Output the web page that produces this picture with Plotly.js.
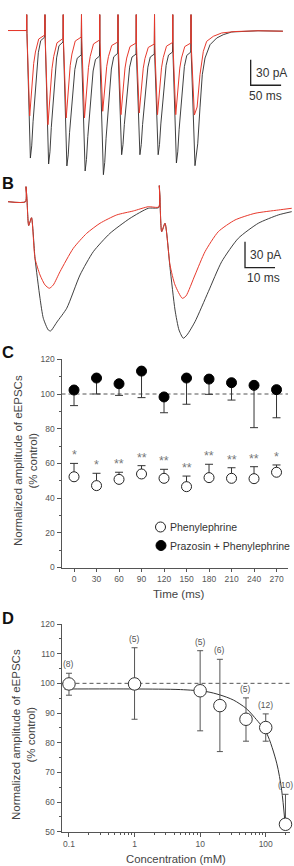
<!DOCTYPE html>
<html>
<head>
<meta charset="utf-8">
<script src="https://cdn.plot.ly/plotly-3.0.1.min.js"></script>
<style>html,body{margin:0;padding:0;background:#fff;}#chart{width:294px;height:866px;}</style>
</head>
<body>
<div id="chart"></div>
<script>
// ---------- Panel A: train of eEPSCs (time in ms, current in pA) ----------
const traceA_t_control = [-30.7,-0.4,0,0.4,6.0,8.2,10.4,14.8,19.1,23,29.6,
 30,30.4,36,38.2,40.4,44.8,49.1,53,59.6,
 60,60.4,66,68.2,70.4,74.8,79.1,83,89.6,
 90,90.4,96,98.2,100.4,104.8,109.1,113,119.6,
 120,120.4,126,128.2,130.4,134.8,139.1,143,149.6,
 150,150.4,156,158.2,160.4,164.8,169.1,173,179.6,
 180,180.4,186,188.2,190.4,194.8,199.1,203,209.6,
 210,210.4,216,218.2,220.4,224.8,229.1,233,239.6,
 240,240.4,246,248.2,250.4,254.8,259.1,263,269.6,
 270,270.4,276.5,281,284.7,288.5,293,301.2,312.2,323,336.8,380,421];
const traceA_I_control = [0,0,18.7,-3.3,-150,-135.7,-107.3,-60.3,-26.1,-11.9,-7.7,
 18.7,-11,-157,-142.7,-113.9,-66.6,-32.2,-17.9,-13.5,
 18.7,-16.8,-159.3,-146.3,-120.1,-77,-45.7,-32.6,-28.7,
 18.7,-32,-165.2,-151.7,-124.7,-80,-47.6,-34.1,-30,
 18.7,-33.3,-169.6,-155.3,-126.7,-79.5,-45.3,-30.9,-26.7,
 18.7,-30,-146.1,-134.2,-110.5,-71.5,-43.1,-31.2,-27.7,
 18.7,-31,-146.1,-134.2,-110.5,-71.5,-43.1,-31.2,-27.7,
 18.7,-31,-146.1,-134,-109.9,-70,-41,-28.9,-25.3,
 18.7,-28.6,-155.8,-142.7,-116.7,-73.6,-42.3,-29.3,-25.3,
 18.7,-28.6,-159,-133.3,-91,-52,-32.3,-16.7,-8.8,-4.9,-1.7,-0.3,-0.8];
const traceA_t_pe = [-30.7,-0.4,0,0.4,4.9,8.7,11.5,14.3,19.7,29.6,
 30,30.4,34.9,38.7,41.5,44.3,49.7,59.6,
 60,60.4,64.9,68.7,71.5,74.3,79.7,89.6,
 90,90.4,94.9,98.7,101.5,104.3,109.7,119.6,
 120,120.4,124.9,128.7,131.5,134.3,139.7,149.6,
 150,150.4,154.9,158.7,161.5,164.3,169.7,179.6,
 180,180.4,184.9,188.7,191.5,194.3,199.7,209.6,
 210,210.4,214.9,218.7,221.5,224.3,229.7,239.6,
 240,240.4,244.9,248.7,251.5,254.3,259.7,269.6,
 270,270.4,275.5,280,282.5,284.7,290.2,295.7,306.6,320.4,342,380,421];
const traceA_I_pe = [0,0,18.7,-3.3,-100.5,-60.5,-38.6,-25.3,-10,-5.3,
 18.7,-8.6,-110.8,-68.2,-44.9,-30.7,-14.5,-9.4,
 18.7,-12.7,-102.9,-62.9,-41,-27.7,-12.4,-7.7,
 18.7,-11,-102.9,-64.4,-43.3,-30.5,-15.8,-11.2,
 18.7,-14.5,-95,-60.8,-42.1,-30.7,-17.6,-13.5,
 18.7,-16.8,-99,-63.6,-44.2,-32.4,-18.9,-14.7,
 18.7,-18,-97,-62.9,-44.3,-32.9,-19.9,-15.9,
 18.7,-19.2,-99,-63.3,-43.9,-31.9,-18.4,-14.1,
 18.7,-17.4,-99,-63.6,-44.2,-32.4,-18.9,-14.7,
 18.7,-18,-99.4,-90,-70,-52,-24.5,-12.7,-6.8,-2.9,-1.2,-0.3,-0.8];
const scaleA_pA = 30, scaleA_ms = 50;

// ---------- Panel B: two expanded eEPSCs ----------
const traceB_t_control = [-6,-0.17,0,0.33,0.9,1.83,3.0,4.67,5.77,7.43,8.23,9.67,10.33,13.57,18.0,22.43,28.0,34.67,40.77,44.27,44.43,44.67,45.23,46.33,48.0,49.67,51.0,52.43,53.67,56.33,60.77,65.23,70.77,77.43,84.1,88.57];
const traceB_I_control = [0,0,17.3,2.0,-27.5,-18.5,-65.3,-111.5,-134.6,-148.1,-149.2,-142.3,-138.8,-123,-84.6,-57.7,-36.5,-19.2,-7.6,-6.7,18.5,0.5,-34.6,-24.9,-76,-125,-148.1,-157.6,-153.8,-138.5,-103.9,-69.2,-42.2,-24.9,-15.3,-11.5];
const traceB_t_pe = [-6,-0.17,0,0.33,0.9,1.83,3.0,4.67,6.33,7.77,9.1,11.33,15.77,20.23,24.67,30.23,35.77,40.77,44.27,44.43,44.67,45.23,46.33,48.0,49.67,52.1,53.33,56.33,59.67,64.1,69.67,76.33,84.1,88.57];
const traceB_I_pe = [0,0,17.3,2.0,-27.5,-18.5,-65.3,-84.6,-96.1,-99.9,-96.1,-80.8,-53.8,-36.5,-24.9,-15.3,-10.7,-5.8,-6.1,18.5,0.5,-34.6,-24.9,-73,-96.1,-111.5,-108.8,-84.6,-57.7,-34.6,-21.1,-13.4,-9.6,-7.6];
const scaleB_pA = 30, scaleB_ms = 10;

// ---------- Panel C ----------
const timeC = [0,30,60,90,120,150,180,210,240,270];
const pheMean = [52.3,47.2,50.8,53.9,51.4,46.6,51.8,51.4,51.2,54.9];
const pheErr = [7.7,7.1,4.1,4.8,5.2,6.1,7.7,6.1,6.9,4.2];
const prazMean = [102.3,109.2,105.9,113.2,98.3,109.2,108.6,106.5,105,102.5];
const prazErr = [9,9.2,6.7,15.3,9.1,15.1,8.8,10,24.4,16.2];
const sigLabels = ['*','*','**','**','**','**','**','**','**','*'];
const legendNames = ['Phenylephrine','Prazosin + Phenylephrine'];
const controlLevel = 100;

// ---------- Panel D ----------
const conc = [0.1,1,10,20,50,100,200];
const concMean = [99.8,99.8,97.5,92.5,87.9,85.1,52.5];
const concErrUp = [3.6,12.2,13.5,15.6,7.2,4.6,10.1];
const concErrDown = [3.8,11.9,13.5,15.5,7.4,4.6,0];
const nLabels = ['(8)','(5)','(5)','(6)','(5)','(12)','(10)'];
const fitConc = [0.085,1,5,12.6,20,32,50,64.7,103,147,175,197];
const fitVal = [98.1,98.1,97.9,97.2,96.1,94.4,91.6,89,83.2,73.1,64,52.8];
const dTickVals = [0.1,1,10,100];
const dTickText = ['0.1','1','10','100'];

// ---------- layout helpers ----------
const W = 294, H = 866;
const px = x => x / W;
const py = y => 1 - y / H;
const FONT = 'Liberation Sans, Arial, sans-serif';
const AX = '#555', TXT = '#444';
const RED = '#e8392c', BLK = '#2a2a2a';

const data = [];
// Panel A
data.push({x: traceA_t_control, y: traceA_I_control, xaxis:'x', yaxis:'y', mode:'lines', line:{color:BLK, width:0.9}, hoverinfo:'skip'});
data.push({x: traceA_t_pe, y: traceA_I_pe, xaxis:'x', yaxis:'y', mode:'lines', line:{color:RED, width:1}, hoverinfo:'skip'});
const sbA = {x0: 368, y0: -34.4};
data.push({x:[sbA.x0, sbA.x0, sbA.x0 + scaleA_ms], y:[sbA.y0, sbA.y0 - scaleA_pA, sbA.y0 - scaleA_pA], xaxis:'x', yaxis:'y', mode:'lines', line:{color:'#222', width:1.3}, hoverinfo:'skip'});
// Panel B
data.push({x: traceB_t_control, y: traceB_I_control, xaxis:'x2', yaxis:'y2', mode:'lines', line:{color:BLK, width:0.9, shape:'spline', smoothing:0.6}, hoverinfo:'skip'});
data.push({x: traceB_t_pe, y: traceB_I_pe, xaxis:'x2', yaxis:'y2', mode:'lines', line:{color:RED, width:1, shape:'spline', smoothing:0.6}, hoverinfo:'skip'});
const sbB = {x0: 73, y0: -46.2};
data.push({x:[sbB.x0, sbB.x0, sbB.x0 + scaleB_ms], y:[sbB.y0, sbB.y0 - scaleB_pA, sbB.y0 - scaleB_pA], xaxis:'x2', yaxis:'y2', mode:'lines', line:{color:'#222', width:1.3}, hoverinfo:'skip'});
// Panel C
data.push({x: timeC, y: prazMean, xaxis:'x3', yaxis:'y3', mode:'markers', name: legendNames[1],
  marker:{symbol:'circle', size:10, color:'#000', line:{color:'#000', width:1}},
  error_y:{type:'data', symmetric:false, array: prazErr.map(() => 0), arrayminus: prazErr, color:'#333', thickness:1, width:4},
  cliponaxis:false, hoverinfo:'skip'});
data.push({x: timeC, y: pheMean, xaxis:'x3', yaxis:'y3', mode:'markers', name: legendNames[0],
  marker:{symbol:'circle', size:10, color:'#fff', line:{color:'#222', width:1}},
  error_y:{type:'data', symmetric:false, array: pheErr, arrayminus: pheErr.map(() => 0), color:'#333', thickness:1, width:4},
  cliponaxis:false, hoverinfo:'skip'});
// Panel D
data.push({x: fitConc, y: fitVal, xaxis:'x4', yaxis:'y4', mode:'lines', line:{color:'#333', width:1, shape:'spline', smoothing:0.8}, hoverinfo:'skip'});
data.push({x: conc, y: concMean, xaxis:'x4', yaxis:'y4', mode:'markers',
  marker:{symbol:'circle', size:12.5, color:'#fff', line:{color:'#333', width:1}},
  error_y:{type:'data', symmetric:false, array: concErrUp, arrayminus: concErrDown, color:'#555', thickness:1, width:3},
  cliponaxis:false, hoverinfo:'skip'});

const hidden = {visible:false, fixedrange:true};
const yTitle = 'Normalized amplitude of eEPSCs<br>(% control)';

const annotations = [
  {text:'<b>B</b>', x:px(7.5), y:py(182.5), xref:'paper', yref:'paper', showarrow:false, xanchor:'center', yanchor:'middle', font:{size:16.5, color:'#111', family:FONT}},
  {text:'<b>C</b>', x:px(7.5), y:py(351.5), xref:'paper', yref:'paper', showarrow:false, xanchor:'center', yanchor:'middle', font:{size:16.5, color:'#111', family:FONT}},
  {text:'<b>D</b>', x:px(7.5), y:py(617.5), xref:'paper', yref:'paper', showarrow:false, xanchor:'center', yanchor:'middle', font:{size:16.5, color:'#111', family:FONT}},
  // scale bar labels
  {text: scaleA_pA + ' pA', x: sbA.x0, y: sbA.y0 - scaleA_pA/2, xref:'x', yref:'y', showarrow:false, xanchor:'left', yanchor:'middle', xshift:3, font:{size:12, color:'#333', family:FONT}},
  {text: scaleA_ms + ' ms', x: sbA.x0 + scaleA_ms/2, y: sbA.y0 - scaleA_pA, xref:'x', yref:'y', showarrow:false, xanchor:'center', yanchor:'middle', yshift:-11, font:{size:12, color:'#333', family:FONT}},
  {text: scaleB_pA + ' pA', x: sbB.x0, y: sbB.y0 - scaleB_pA/2, xref:'x2', yref:'y2', showarrow:false, xanchor:'left', yanchor:'middle', xshift:3, font:{size:12, color:'#333', family:FONT}},
  {text: scaleB_ms + ' ms', x: sbB.x0 + scaleB_ms/2, y: sbB.y0 - scaleB_pA, xref:'x2', yref:'y2', showarrow:false, xanchor:'center', yanchor:'middle', yshift:-10, xshift:3, font:{size:12, color:'#333', family:FONT}},
  // axis titles
  {text: yTitle, x:px(25), y:py(461), xref:'paper', yref:'paper', showarrow:false, textangle:-90, xanchor:'center', yanchor:'middle', font:{size:11.5, color:TXT, family:FONT}},
  {text:'Time (ms)', x:px(178), y:py(594), xref:'paper', yref:'paper', showarrow:false, xanchor:'center', yanchor:'middle', font:{size:11.5, color:TXT, family:FONT}},
  {text: yTitle, x:px(23), y:py(735), xref:'paper', yref:'paper', showarrow:false, textangle:-90, xanchor:'center', yanchor:'middle', font:{size:11.5, color:TXT, family:FONT}},
  {text:'Concentration (mM)', x:px(176), y:py(859), xref:'paper', yref:'paper', showarrow:false, xanchor:'center', yanchor:'middle', font:{size:11.3, color:TXT, family:FONT}},
  // legend text
  {text: legendNames[0], x:px(167.5), y:py(527), xref:'paper', yref:'paper', showarrow:false, xanchor:'left', yanchor:'middle', font:{size:10.5, color:'#333', family:FONT}},
  {text: legendNames[1], x:px(167.5), y:py(545.5), xref:'paper', yref:'paper', showarrow:false, xanchor:'left', yanchor:'middle', font:{size:10.5, color:'#333', family:FONT}}
];
sigLabels.forEach((s, i) => annotations.push({text:s, x:timeC[i], y:pheMean[i] + pheErr[i], xref:'x3', yref:'y3', showarrow:false, xanchor:'center', yanchor:'middle', yshift:8, font:{size:12.5, color:'#777', family:FONT}}));
nLabels.forEach((s, i) => annotations.push({text:s, x:Math.log10(conc[i]), y:concMean[i] + concErrUp[i], xref:'x4', yref:'y4', showarrow:false, xanchor:'center', yanchor:'middle', yshift:9, font:{size:8.5, color:'#555', family:FONT}}));

const shapes = [
  {type:'line', xref:'x3 domain', yref:'y3', x0:0, x1:1, y0:controlLevel, y1:controlLevel, line:{color:'#555', width:1, dash:'4px,3px'}, layer:'below'},
  {type:'line', xref:'x4 domain', yref:'y4', x0:0, x1:1, y0:controlLevel, y1:controlLevel, line:{color:'#555', width:1, dash:'4px,3px'}, layer:'below'},
  // legend keys
  {type:'circle', xref:'paper', yref:'paper', xsizemode:'pixel', ysizemode:'pixel', xanchor:px(160.5), yanchor:py(527), x0:-5, x1:5, y0:-5, y1:5, line:{color:'#222', width:1}, fillcolor:'#fff'},
  {type:'circle', xref:'paper', yref:'paper', xsizemode:'pixel', ysizemode:'pixel', xanchor:px(161), yanchor:py(545.5), x0:-5, x1:5, y0:-5, y1:5, line:{color:'#000', width:1}, fillcolor:'#000'}
];

const minorD = [];
[0.1, 1, 10, 100].forEach(d => { for (let k = 2; k <= 9; k++) { const v = d * k; if (v <= 230) minorD.push(+v.toPrecision(3)); } });

const tickfont = {size:8.5, color:AX, family:FONT};
const layout = {
  width: W, height: H, margin:{l:0, r:0, t:0, b:0}, paper_bgcolor:'#fff', plot_bgcolor:'rgba(0,0,0,0)',
  showlegend:false, font:{family:FONT},
  xaxis: Object.assign({domain:[0,1], range:[-43.9, 439.2], anchor:'y'}, hidden),
  yaxis: Object.assign({domain:[py(190), 1], range:[-187.6, 35.9], anchor:'x'}, hidden),
  xaxis2: Object.assign({domain:[0,1], range:[-8.67, 89.33], anchor:'y2'}, hidden),
  yaxis2: Object.assign({domain:[py(345), py(175)], range:[-165.4, 30.8], anchor:'x2'}, hidden),
  xaxis3: {domain:[px(61.5), px(288)], range:[-16.7, 285.3], anchor:'y3', showline:true, linecolor:AX, linewidth:1,
    ticks:'outside', ticklen:3, tickcolor:AX, tickvals: timeC, tickfont, showgrid:false, zeroline:false, fixedrange:true},
  yaxis3: {domain:[py(567.5), py(359.3)], range:[0,120], anchor:'x3', showline:true, linecolor:AX, linewidth:1,
    ticks:'outside', ticklen:4, tickcolor:AX, dtick:20, tick0:0, tickfont, showgrid:false, zeroline:false, fixedrange:true,
    minor:{ticks:'outside', ticklen:2, dtick:10, tick0:0, tickcolor:AX, showgrid:false}},
  xaxis4: {type:'log', domain:[px(61.5), px(290)], range:[-1.114, 2.37], anchor:'y4', showline:true, linecolor:AX, linewidth:1,
    ticks:'outside', ticklen:4, tickcolor:AX, tickmode:'array', tickvals:dTickVals, ticktext:dTickText, tickfont, showgrid:false, zeroline:false, fixedrange:true,
    minor:{ticks:'outside', ticklen:2, tickmode:'array', tickvals:minorD, tickcolor:AX, showgrid:false}},
  yaxis4: {domain:[py(831.7), py(624)], range:[50,120], anchor:'x4', showline:true, linecolor:AX, linewidth:1,
    ticks:'outside', ticklen:4, tickcolor:AX, dtick:10, tick0:0, tickfont, showgrid:false, zeroline:false, fixedrange:true,
    minor:{ticks:'outside', ticklen:2, dtick:5, tick0:0, tickcolor:AX, showgrid:false}},
  annotations, shapes
};

Plotly.newPlot('chart', data, layout, {displayModeBar:false, staticPlot:true});
</script>
</body>
</html>
